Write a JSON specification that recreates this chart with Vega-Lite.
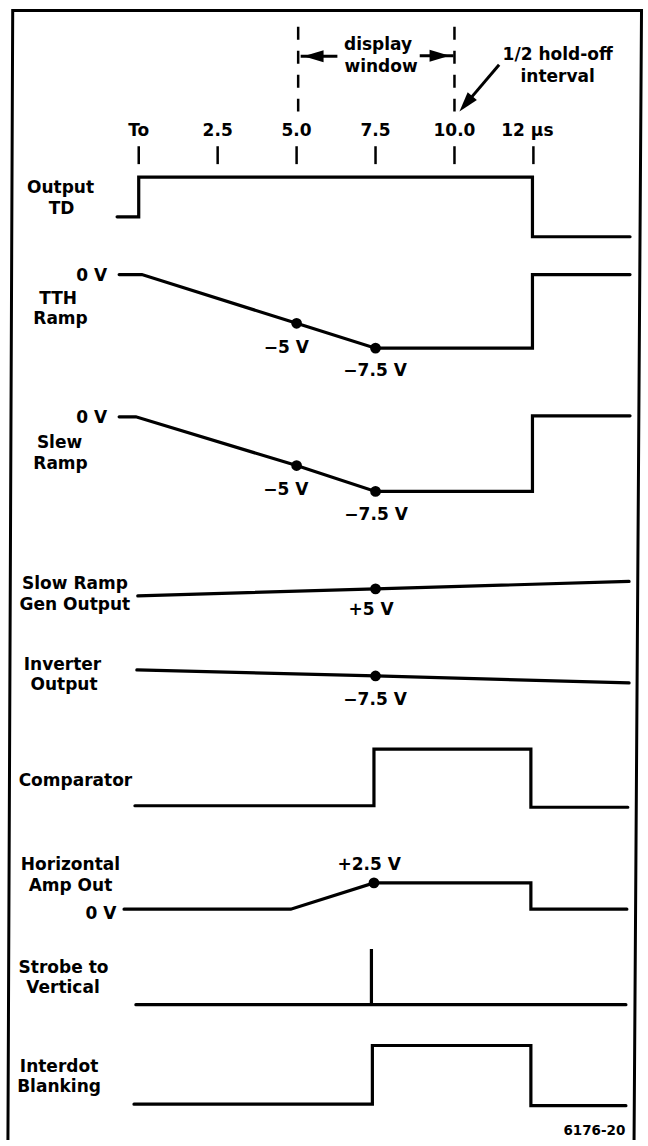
{
  "$schema": "https://vega.github.io/schema/vega-lite/v6.json",
  "width": 648,
  "height": 1146,
  "autosize": {"type": "fit", "contains": "padding"},
  "padding": 0,
  "background": "white",
  "config": {"view": {"stroke": null}},
  "datasets": {
    "frame": [
      {"i": 1, "t": -4.142, "y": 1146},
      {"i": 2, "t": -3.991, "y": 10.5},
      {"i": 3, "t": 15.924, "y": 10.5},
      {"i": 4, "t": 15.688, "y": 1146}
    ],
    "sig": [
      {"s": "Output TD", "i": 1, "t": -0.685, "y": 218},
      {"s": "Output TD", "i": 2, "t": 0, "y": 218},
      {"s": "Output TD", "i": 3, "t": 0, "y": 178},
      {"s": "Output TD", "i": 4, "t": 12.47, "y": 178},
      {"s": "Output TD", "i": 5, "t": 12.47, "y": 238},
      {"s": "Output TD", "i": 6, "t": 15.56, "y": 238},
      {"s": "TTH Ramp", "i": 1, "t": -0.62, "y": 276},
      {"s": "TTH Ramp", "i": 2, "t": 0.1, "y": 276},
      {"s": "TTH Ramp", "i": 3, "t": 5, "y": 325},
      {"s": "TTH Ramp", "i": 4, "t": 7.5, "y": 350},
      {"s": "TTH Ramp", "i": 5, "t": 12.47, "y": 350},
      {"s": "TTH Ramp", "i": 6, "t": 12.47, "y": 276},
      {"s": "TTH Ramp", "i": 7, "t": 15.56, "y": 276},
      {"s": "Slew Ramp", "i": 1, "t": -0.62, "y": 419},
      {"s": "Slew Ramp", "i": 2, "t": -0.09, "y": 419},
      {"s": "Slew Ramp", "i": 3, "t": 5, "y": 468},
      {"s": "Slew Ramp", "i": 4, "t": 7.5, "y": 494},
      {"s": "Slew Ramp", "i": 5, "t": 12.47, "y": 494},
      {"s": "Slew Ramp", "i": 6, "t": 12.47, "y": 418},
      {"s": "Slew Ramp", "i": 7, "t": 15.56, "y": 418},
      {"s": "Slow Ramp Gen Output", "i": 1, "t": -0.03, "y": 599},
      {"s": "Slow Ramp Gen Output", "i": 2, "t": 7.5, "y": 592},
      {"s": "Slow Ramp Gen Output", "i": 3, "t": 15.53, "y": 584.5},
      {"s": "Inverter Output", "i": 1, "t": -0.06, "y": 673.5},
      {"s": "Inverter Output", "i": 2, "t": 7.5, "y": 679.5},
      {"s": "Inverter Output", "i": 3, "t": 15.53, "y": 686.5},
      {"s": "Comparator", "i": 1, "t": -0.12, "y": 810},
      {"s": "Comparator", "i": 2, "t": 7.45, "y": 810},
      {"s": "Comparator", "i": 3, "t": 7.45, "y": 753},
      {"s": "Comparator", "i": 4, "t": 12.42, "y": 753},
      {"s": "Comparator", "i": 5, "t": 12.42, "y": 811.5},
      {"s": "Comparator", "i": 6, "t": 15.49, "y": 811.5},
      {"s": "Horizontal Amp Out", "i": 1, "t": -0.465, "y": 914},
      {"s": "Horizontal Amp Out", "i": 2, "t": 4.815, "y": 914},
      {"s": "Horizontal Amp Out", "i": 3, "t": 7.45, "y": 887.5},
      {"s": "Horizontal Amp Out", "i": 4, "t": 12.42, "y": 887.5},
      {"s": "Horizontal Amp Out", "i": 5, "t": 12.42, "y": 914},
      {"s": "Horizontal Amp Out", "i": 6, "t": 15.46, "y": 914},
      {"s": "Strobe to Vertical", "i": 1, "t": -0.09, "y": 1010},
      {"s": "Strobe to Vertical", "i": 2, "t": 7.37, "y": 1010},
      {"s": "Strobe to Vertical", "i": 3, "t": 7.37, "y": 954},
      {"s": "Strobe to Vertical", "i": 4, "t": 7.37, "y": 1010},
      {"s": "Strobe to Vertical", "i": 5, "t": 15.43, "y": 1010},
      {"s": "Interdot Blanking", "i": 1, "t": -0.15, "y": 1110},
      {"s": "Interdot Blanking", "i": 2, "t": 7.4, "y": 1110},
      {"s": "Interdot Blanking", "i": 3, "t": 7.4, "y": 1051},
      {"s": "Interdot Blanking", "i": 4, "t": 12.42, "y": 1051},
      {"s": "Interdot Blanking", "i": 5, "t": 12.42, "y": 1111.5},
      {"s": "Interdot Blanking", "i": 6, "t": 15.43, "y": 1111.5}
    ],
    "dots": [
      {"t": 5, "y": 325},
      {"t": 7.5, "y": 350},
      {"t": 5, "y": 468},
      {"t": 7.5, "y": 494},
      {"t": 7.5, "y": 592},
      {"t": 7.5, "y": 679.5},
      {"t": 7.45, "y": 887.5}
    ],
    "labels": [
      {"label": "Output", "t": -2.477, "y": 189},
      {"label": "TD", "t": -2.445, "y": 210},
      {"label": "TTH", "t": -2.555, "y": 301},
      {"label": "Ramp", "t": -2.477, "y": 321},
      {"label": "Slew", "t": -2.508, "y": 445},
      {"label": "Ramp", "t": -2.477, "y": 466},
      {"label": "−5 V", "t": 4.673, "y": 350},
      {"label": "−7.5 V", "t": 7.486, "y": 373},
      {"label": "−5 V", "t": 4.657, "y": 493},
      {"label": "−7.5 V", "t": 7.517, "y": 518},
      {"label": "Slow Ramp", "t": -2.021, "y": 587},
      {"label": "Gen Output", "t": -2.021, "y": 608},
      {"label": "+5 V", "t": 7.36, "y": 613},
      {"label": "Inverter", "t": -2.414, "y": 669},
      {"label": "Output", "t": -2.366, "y": 689},
      {"label": "−7.5 V", "t": 7.486, "y": 704},
      {"label": "Comparator", "t": -2.005, "y": 785},
      {"label": "Horizontal", "t": -2.162, "y": 870},
      {"label": "Amp Out", "t": -2.162, "y": 891},
      {"label": "+2.5 V", "t": 7.297, "y": 870},
      {"label": "Strobe to", "t": -2.382, "y": 973},
      {"label": "Vertical", "t": -2.398, "y": 993},
      {"label": "Interdot", "t": -2.524, "y": 1073},
      {"label": "Blanking", "t": -2.524, "y": 1093},
      {"label": "To", "t": 0, "y": 132},
      {"label": "2.5", "t": 2.5, "y": 132},
      {"label": "5.0", "t": 5, "y": 132},
      {"label": "7.5", "t": 7.5, "y": 132},
      {"label": "10.0", "t": 10, "y": 132},
      {"label": "12 µs", "t": 12.31, "y": 132},
      {"label": "display", "t": 7.58, "y": 45},
      {"label": "window", "t": 7.674, "y": 67},
      {"label": "1/2 hold-off", "t": 13.268, "y": 55},
      {"label": "interval", "t": 13.268, "y": 77}
    ],
    "rlabels": [
      {"label": "0 V", "t": -0.999, "y": 277},
      {"label": "0 V", "t": -0.999, "y": 420.5},
      {"label": "0 V", "t": -0.707, "y": 919}
    ],
    "note": [
      {"label": "6176-20", "t": 14.432, "y": 1137}
    ],
    "ticks": [
      {"t": 0}, {"t": 2.5}, {"t": 5}, {"t": 7.5}, {"t": 10}, {"t": 12.5}
    ],
    "dashes": [
      {"t": 5.05}, {"t": 10.0}
    ],
    "shafts": [
      {"t": 5.129, "y": 56.5, "t2": 6.292, "y2": 56.5},
      {"t": 8.9, "y": 56, "t2": 9.969, "y2": 56},
      {"t": 11.414, "y": 65, "t2": 10.361, "y2": 104.4}
    ],
    "heads": [
      {"t": 5.537, "y": 56.5, "dir": 270},
      {"t": 9.528, "y": 56, "dir": 90},
      {"t": 10.361, "y": 104.4, "dir": 220}
    ]
  },
  "layer": [
    {
      "data": {"name": "frame"},
      "mark": {"type": "line", "color": "black", "strokeWidth": 3, "strokeJoin": "miter"},
      "encoding": {
        "x": {"field": "t", "type": "quantitative", "scale": {"domain": [-4.3935, 15.971], "nice": false, "zero": false}, "axis": null},
        "y": {"field": "y", "type": "quantitative", "scale": {"domain": [0, 1146], "reverse": true, "nice": false, "zero": false}, "axis": null},
        "order": {"field": "i"}
      }
    },
    {
      "data": {"name": "dashes"},
      "mark": {"type": "rule", "color": "black", "strokeWidth": 2.5, "strokeDash": [13, 11]},
      "encoding": {
        "x": {"field": "t", "type": "quantitative", "scale": {"domain": [-4.3935, 15.971], "nice": false, "zero": false}, "axis": null},
        "y": {"datum": 27, "type": "quantitative", "scale": {"domain": [0, 1146], "reverse": true, "nice": false, "zero": false}, "axis": null},
        "y2": {"datum": 112}
      }
    },
    {
      "data": {"name": "ticks"},
      "mark": {"type": "rule", "color": "black", "strokeWidth": 2.5},
      "encoding": {
        "x": {"field": "t", "type": "quantitative", "scale": {"domain": [-4.3935, 15.971], "nice": false, "zero": false}, "axis": null},
        "y": {"datum": 147, "type": "quantitative", "scale": {"domain": [0, 1146], "reverse": true, "nice": false, "zero": false}, "axis": null},
        "y2": {"datum": 165}
      }
    },
    {
      "data": {"name": "shafts"},
      "mark": {"type": "rule", "color": "black", "strokeWidth": 3},
      "encoding": {
        "x": {"field": "t", "type": "quantitative", "scale": {"domain": [-4.3935, 15.971], "nice": false, "zero": false}, "axis": null},
        "y": {"field": "y", "type": "quantitative", "scale": {"domain": [0, 1146], "reverse": true, "nice": false, "zero": false}, "axis": null},
        "x2": {"field": "t2"},
        "y2": {"field": "y2"}
      }
    },
    {
      "data": {"name": "heads"},
      "mark": {"type": "point", "shape": "M 0 -1 L -0.6 1 L 0.6 1 Z", "filled": true, "color": "black", "opacity": 1, "size": 400},
      "encoding": {
        "x": {"field": "t", "type": "quantitative", "scale": {"domain": [-4.3935, 15.971], "nice": false, "zero": false}, "axis": null},
        "y": {"field": "y", "type": "quantitative", "scale": {"domain": [0, 1146], "reverse": true, "nice": false, "zero": false}, "axis": null},
        "angle": {"field": "dir", "type": "quantitative", "scale": null}
      }
    },
    {
      "data": {"name": "sig"},
      "mark": {"type": "line", "color": "black", "strokeWidth": 3.2, "strokeJoin": "miter", "strokeCap": "round"},
      "encoding": {
        "x": {"field": "t", "type": "quantitative", "scale": {"domain": [-4.3935, 15.971], "nice": false, "zero": false}, "axis": null},
        "y": {"field": "y", "type": "quantitative", "scale": {"domain": [0, 1146], "reverse": true, "nice": false, "zero": false}, "axis": null},
        "detail": {"field": "s"},
        "order": {"field": "i"}
      }
    },
    {
      "data": {"name": "dots"},
      "mark": {"type": "point", "shape": "circle", "filled": true, "color": "black", "opacity": 1, "size": 115},
      "encoding": {
        "x": {"field": "t", "type": "quantitative", "scale": {"domain": [-4.3935, 15.971], "nice": false, "zero": false}, "axis": null},
        "y": {"field": "y", "type": "quantitative", "scale": {"domain": [0, 1146], "reverse": true, "nice": false, "zero": false}, "axis": null}
      }
    },
    {
      "data": {"name": "labels"},
      "mark": {"type": "text", "font": "DejaVu Sans", "fontWeight": "bold", "fontSize": 17, "color": "black", "align": "center", "baseline": "middle"},
      "encoding": {
        "x": {"field": "t", "type": "quantitative", "scale": {"domain": [-4.3935, 15.971], "nice": false, "zero": false}, "axis": null},
        "y": {"field": "y", "type": "quantitative", "scale": {"domain": [0, 1146], "reverse": true, "nice": false, "zero": false}, "axis": null},
        "text": {"field": "label"}
      }
    },
    {
      "data": {"name": "rlabels"},
      "mark": {"type": "text", "font": "DejaVu Sans", "fontWeight": "bold", "fontSize": 17, "color": "black", "align": "right", "baseline": "middle"},
      "encoding": {
        "x": {"field": "t", "type": "quantitative", "scale": {"domain": [-4.3935, 15.971], "nice": false, "zero": false}, "axis": null},
        "y": {"field": "y", "type": "quantitative", "scale": {"domain": [0, 1146], "reverse": true, "nice": false, "zero": false}, "axis": null},
        "text": {"field": "label"}
      }
    },
    {
      "data": {"name": "note"},
      "mark": {"type": "text", "font": "DejaVu Sans", "fontWeight": "bold", "fontSize": 13.5, "color": "black", "align": "center", "baseline": "middle"},
      "encoding": {
        "x": {"field": "t", "type": "quantitative", "scale": {"domain": [-4.3935, 15.971], "nice": false, "zero": false}, "axis": null},
        "y": {"field": "y", "type": "quantitative", "scale": {"domain": [0, 1146], "reverse": true, "nice": false, "zero": false}, "axis": null},
        "text": {"field": "label"}
      }
    }
  ]
}
